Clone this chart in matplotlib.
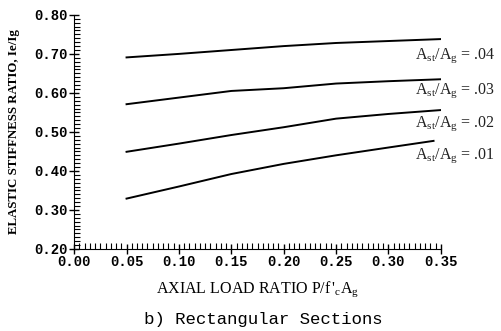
import matplotlib
matplotlib.use("Agg")
import matplotlib.pyplot as plt
from matplotlib.ticker import MultipleLocator, FormatStrFormatter

plt.rcParams['mathtext.fontset'] = 'stix'

# axial load ratio P/f'c Ag
load_ratio = [0.05, 0.10, 0.15, 0.20, 0.25, 0.30, 0.35]
load_ratio_01 = [0.05, 0.10, 0.15, 0.20, 0.25, 0.30, 0.343]

# elastic stiffness ratio Ie/Ig, one list per steel ratio
stiff_04 = [0.691, 0.700, 0.710, 0.720, 0.728, 0.733, 0.738]
stiff_03 = [0.571, 0.588, 0.605, 0.612, 0.624, 0.630, 0.635]
stiff_02 = [0.449, 0.470, 0.492, 0.512, 0.534, 0.546, 0.556]
stiff_01 = [0.329, 0.360, 0.392, 0.418, 0.440, 0.460, 0.477]

steel_labels = ['.04', '.03', '.02', '.01']
label_y = [0.695, 0.605, 0.522, 0.440]

fig = plt.figure(figsize=(5.01, 3.31), dpi=100)
ax = fig.add_axes([0.148, 0.248, 0.732, 0.707])

ax.plot(load_ratio, stiff_04, color='black', lw=1.4)
ax.plot(load_ratio, stiff_03, color='black', lw=1.4)
ax.plot(load_ratio, stiff_02, color='black', lw=1.4)
ax.plot(load_ratio_01, stiff_01, color='black', lw=1.4)

for lab, yy in zip(steel_labels, label_y):
    ax.text(0.325, yy, r'$\mathregular{A_{st}/A_g}$ = ' + lab, fontsize=11.5,
            family='Liberation Serif', va='center', ha='left', color='#222222')

ax.set_xlim(0, 0.35)
ax.set_ylim(0.2, 0.8)
ax.xaxis.set_major_locator(MultipleLocator(0.05))
ax.xaxis.set_minor_locator(MultipleLocator(0.005))
ax.yaxis.set_major_locator(MultipleLocator(0.1))
ax.yaxis.set_minor_locator(MultipleLocator(0.01))
ax.xaxis.set_major_formatter(FormatStrFormatter('%.2f'))
ax.yaxis.set_major_formatter(FormatStrFormatter('%.2f'))

ax.spines['top'].set_visible(False)
ax.spines['right'].set_visible(False)
ax.tick_params(which='major', direction='inout', length=7, width=1, labelsize=10, pad=1)
ax.tick_params(which='minor', direction='in', length=4, width=0.8)
for lbl in ax.get_xticklabels() + ax.get_yticklabels():
    lbl.set_family('Liberation Mono')
    lbl.set_fontweight('bold')

ax.set_ylabel('ELASTIC STIFFNESS RATIO, Ie/Ig', family='Liberation Serif',
              fontweight='bold', fontsize=9.3)
ax.yaxis.set_label_coords(-0.148, 0.5)
ax.set_xlabel(r"AXIAL LOAD RATIO $\mathregular{P/f\,'_{c}A_g}$", family='Liberation Serif',
              fontsize=11.5, va='center')
ax.xaxis.set_label_coords(0.5, -0.171)
fig.text(0.525, 0.036, 'b) Rectangular Sections', family='Liberation Mono',
         fontsize=12.5, ha='center', va='center')

fig.savefig('out.png', dpi=100)
